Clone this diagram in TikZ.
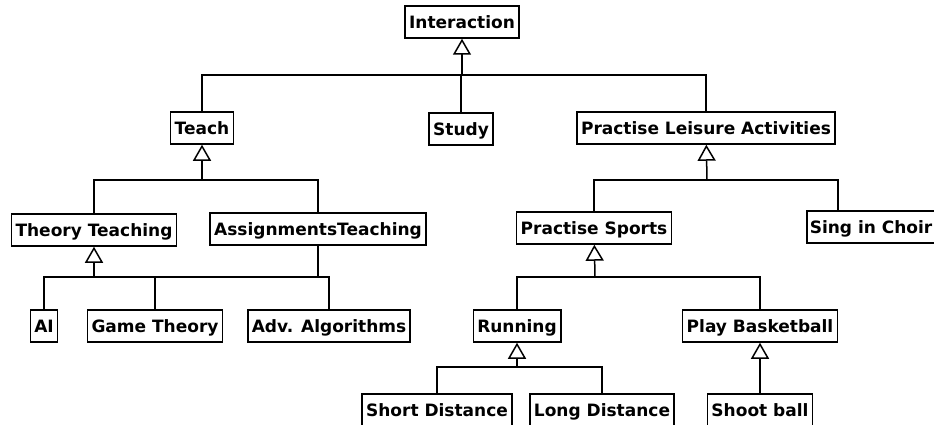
\documentclass[tikz,border=0pt]{standalone}
\usepackage{fontspec}
\setmainfont{DejaVu Sans}
\usetikzlibrary{arrows.meta}

\tikzset{
  cls/.style={shape=rectangle,draw=black,line width=1.5pt,inner xsep=4pt,
    text height=12.5pt,text depth=-2pt,minimum height=32pt,
    font=\bfseries\fontsize{17}{19}\selectfont},
  link/.style={line width=1.5pt},
  gen/.style={line width=1.5pt,-{Triangle[fill=white,length=16pt,width=18pt]}},
}

\begin{document}
\begin{tikzpicture}[x=1pt,y=-1pt]
    \useasboundingbox (0,0) rectangle (934,425);
    \node[cls] (interaction) at (462,22) {Interaction};
    \node[cls] (teach) at (202,128) {Teach};
    \node[cls] (study) at (461,129) {Study};
    \node[cls] (leisure) at (706,128) {Practise Leisure Activities};
    \node[cls] (theory) at (94,230) {Theory Teaching};
    \node[cls] (assign) at (318,229) {AssignmentsTeaching};
    \node[cls] (ai) at (44,326) {AI};
    \node[cls] (game) at (155,326) {Game Theory};
    \node[cls] (adv) at (329,326) {Adv. Algorithms};
    \node[cls] (sports) at (594,228) {Practise Sports};
    \node[cls,anchor=west,inner xsep=3pt] (choir) at (806,227) {Sing in Choir};
    \node[cls] (running) at (517,326) {Running};
    \node[cls] (basket) at (760,326) {Play Basketball};
    \node[cls] (short) at (437,410) {Short Distance};
    \node[cls] (long) at (602,410) {Long Distance};
    \node[cls] (shoot) at (760,410) {Shoot ball};
    % bus points
    \coordinate (interaction bus) at (462,75);
    \coordinate (teach bus) at (202,180);
    \coordinate (leisure bus) at (707,180);
    \coordinate (theory bus) at (94,277);
    \coordinate (sports bus) at (595,277);
    \coordinate (running bus) at (517,367);
    \coordinate (choir top) at ([xshift=32pt]choir.north west);
    \path[gen](interaction bus) edge (interaction);
    \draw[link](teach) |- (interaction bus);
    \draw[link](study) |- (interaction bus);
    \draw[link](leisure) |- (interaction bus);
    \path[gen](teach bus) edge (teach);
    \draw[link](theory) |- (teach bus);
    \draw[link](assign) |- (teach bus);
    \path[gen](theory bus) edge (theory);
    \draw[link](ai) |- (theory bus);
    \draw[link](game) |- (theory bus);
    \draw[link](adv) |- (theory bus);
    \draw[link](assign) |- (theory bus);
    \path[gen](leisure bus) edge (leisure);
    \draw[link](sports) |- (leisure bus);
    \draw[link](choir top) |- (leisure bus);
    \path[gen](sports bus) edge (sports);
    \draw[link](running) |- (sports bus);
    \draw[link](basket) |- (sports bus);
    \path[gen](running bus) edge (running);
    \draw[link](short) |- (running bus);
    \draw[link](long) |- (running bus);
    \path[gen](shoot) edge (basket);
\end{tikzpicture}
\end{document}
